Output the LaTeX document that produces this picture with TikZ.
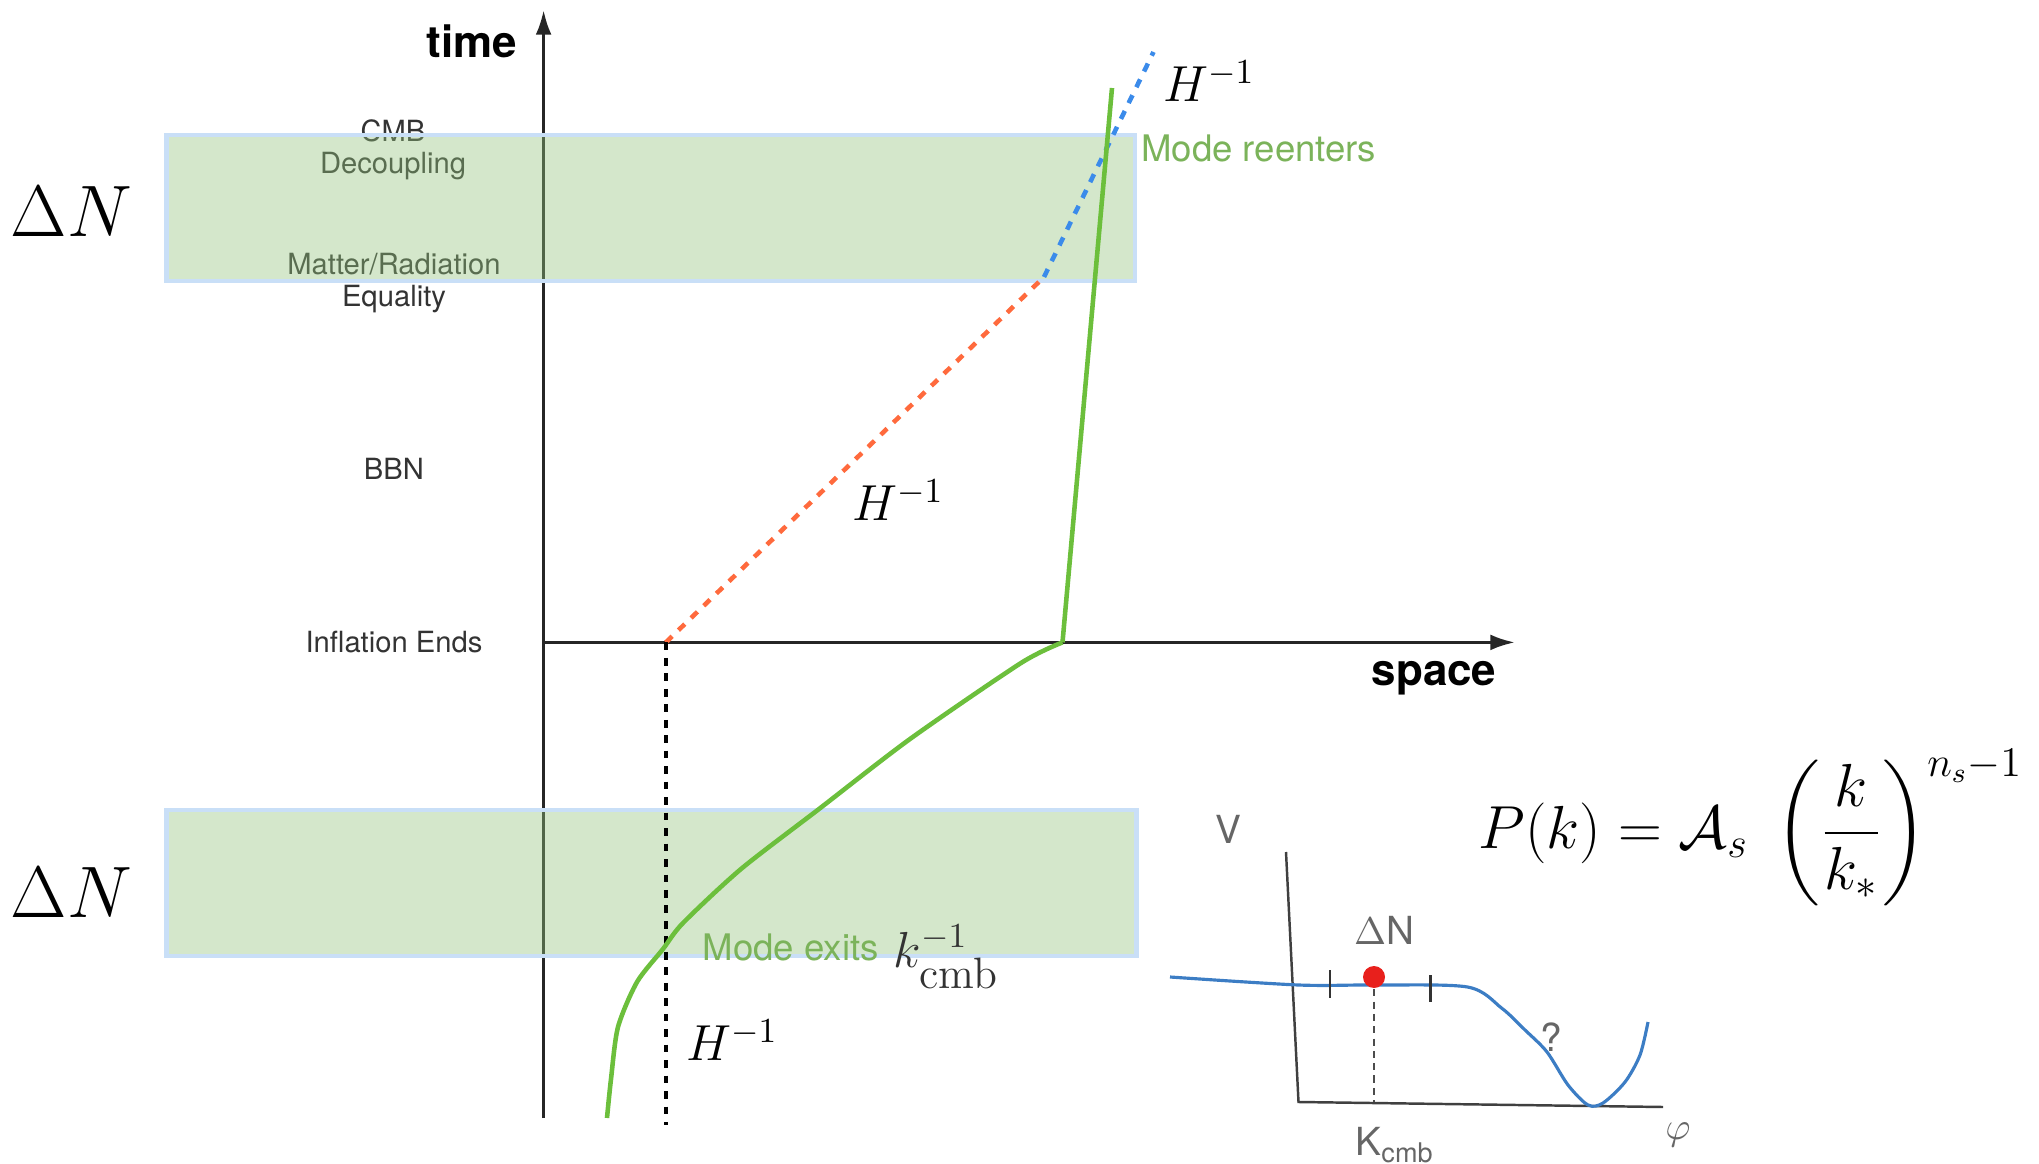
\documentclass[tikz,border=0pt]{standalone}
\usepackage{amsmath}
\usepackage{exscale}
\usepackage{fontspec}
\setsansfont{TeX Gyre Heros}
\usetikzlibrary{arrows.meta}
\definecolor{bandfill}{HTML}{93C47D}
\definecolor{bandline}{HTML}{C9DFF7}
\definecolor{modegreen}{HTML}{6CBF3C}
\definecolor{labgreen}{HTML}{7BB35A}
\definecolor{redline}{HTML}{FF6A3D}
\definecolor{blueline}{HTML}{3B8BEA}
\definecolor{potblue}{HTML}{3C7DC4}
\definecolor{potred}{HTML}{E8201C}
\definecolor{txtgray}{HTML}{333333}
\begin{document}
\begin{tikzpicture}[x=0.01cm,y=-0.01cm,
  smalllab/.style={font=\sffamily\fontsize{8.3}{10}\selectfont, text=txtgray, inner sep=0},
  axislab/.style={font=\sffamily\bfseries\fontsize{12.5}{14}\selectfont, inner sep=0},
  mathlab/.style={font=\fontsize{14.5}{17}\selectfont, inner sep=0},
  bigmath/.style={font=\fontsize{20}{24}\selectfont, inner sep=0},
  modelab/.style={font=\sffamily\fontsize{10.4}{12}\selectfont, text=labgreen, inner sep=0},
  hand/.style={font=\sffamily\fontsize{11}{13}\selectfont, text=black!60, inner sep=0},
  axisline/.style={line width=0.9pt, black!85},
  arrowtip/.style={-{Latex[length=7pt,width=4.5pt]}},
  dotline/.style={line width=1.3pt, dash pattern=on 2.5pt off 2.5pt},
  bandfillstyle/.style={fill=bandfill, fill opacity=0.4},
  bandedge/.style={draw=bandline, line width=1.2pt},
  modeline/.style={draw=modegreen, line width=1.3pt, line join=round},
  potline/.style={draw=potblue, line width=0.9pt, line join=round}
]
\useasboundingbox (0,0) rectangle (2039,1164);

% axes
\coordinate (O) at (543.6,642.4);
\coordinate (Ttop) at (543.6,10);
\coordinate (Tbot) at (543.6,1118);
\coordinate (Send) at (1515,642.4);
\draw[axisline,arrowtip] (Tbot) -- (Ttop);
\draw[axisline,arrowtip] (O) -- (Send);
\node[axislab] (time) at (472,41) {time};
\node[axislab] (space) at (1434,678) {space};

% epoch labels
\node[smalllab] (cmb) at (393,131) {CMB};
\node[smalllab] (dec) at (393,166) {Decoupling};
\node[smalllab] (mr) at (394,264) {Matter/Radiation};
\node[smalllab] (eq) at (394,299) {Equality};
\node[smalllab] (bbn) at (394,469) {BBN};
\node[smalllab] (infl) at (394,642) {Inflation Ends};

% bands
\fill[bandfillstyle] (166.5,135) rectangle (1135,281);
\draw[bandedge] (166.5,135) rectangle (1135,281);
\fill[bandfillstyle] (166.5,810) rectangle (1136.5,956);
\draw[bandedge] (166.5,810) rectangle (1136.5,956);

\node[bigmath] (dn1) at (71.5,212) {$\Delta N$};
\node[bigmath] (dn2) at (71.5,893) {$\Delta N$};

% horizon lines
\coordinate (E) at (665.8,642.4);
\coordinate (Q) at (1044,277);
\coordinate (B) at (1153.5,52);
\coordinate (Ebot) at (665.8,1125);
\draw[dotline, redline] (E) -- (Q);
\draw[dotline, blueline] (Q) -- (B);
\draw[line width=1.1pt, black, dash pattern=on 2.2pt off 2.2pt] (E) -- (Ebot);

% mode
\coordinate (Gtop) at (1112,88);
\coordinate (Gk) at (1062.5,642.4);
\draw[modeline] (Gtop) -- (Gk);
\draw[modeline] plot[smooth, tension=0.45] coordinates {(1062.5,642.4) (1021,663) (910,739) (819,809) (741,869) (683,923) (663,949) (637,982) (618,1027) (611,1079) (607,1118)};

\node[mathlab] (h1) at (1209,81) {$H^{-1}$};
\node[mathlab] (h2) at (898,500) {$H^{-1}$};
\node[mathlab] (h3) at (732,1040) {$H^{-1}$};
\node[modelab, anchor=west] (reent) at (1140.5,148) {Mode reenters};
\node[modelab, anchor=west] (exits) at (702,947) {Mode exits};
\node[mathlab, anchor=west, text=black!80] (kcmb) at (893,957)
  {$k^{-1}_{\hbox{\fontsize{12.5}{14}\selectfont cmb}}$};

% formula
\node[font=\fontsize{17}{20}\selectfont, inner sep=0, anchor=base west] (pk) at (1478,848)
  {$P(k) = \mathcal{A}_s\;\left(\dfrac{k}{k_*}\right)^{n_s-1}$};

% potential inset
\coordinate (Vtop) at (1286,852);
\coordinate (V0) at (1298.5,1102);
\coordinate (Vend) at (1663,1107);
\draw[black!75, line width=0.7pt] (Vtop) -- (V0) -- (Vend);
\draw[potline] plot[smooth, tension=0.5] coordinates {(1170,977) (1298.5,985) (1374,985) (1467.5,987) (1501.5,1008) (1525,1030) (1547,1052) (1568,1085) (1588,1105) (1603,1103) (1625,1082) (1640,1055) (1648,1022)};
\coordinate (dotc) at (1374,977);
\coordinate (dotb) at (1374,1102);
\draw[black!70, line width=0.6pt, dash pattern=on 2pt off 1.5pt] (dotc) -- (dotb);
\fill[potred] (dotc) circle (11);
\draw[black!80, line width=0.8pt] (1330,970) -- (1330,998);
\draw[black!80, line width=0.8pt] (1430.5,975) -- (1430.5,1002);
\node[hand] (vlab) at (1228,829) {V};
\node[hand] (dnlab) at (1384,930) {$\Delta$N};
\node[hand] (qlab) at (1551,1037) {?};
\node[hand] (klab) at (1395,1145) {K\textsubscript{cmb}};
\node[hand] (philab) at (1678,1135) {$\varphi$};
\end{tikzpicture}
\end{document}
